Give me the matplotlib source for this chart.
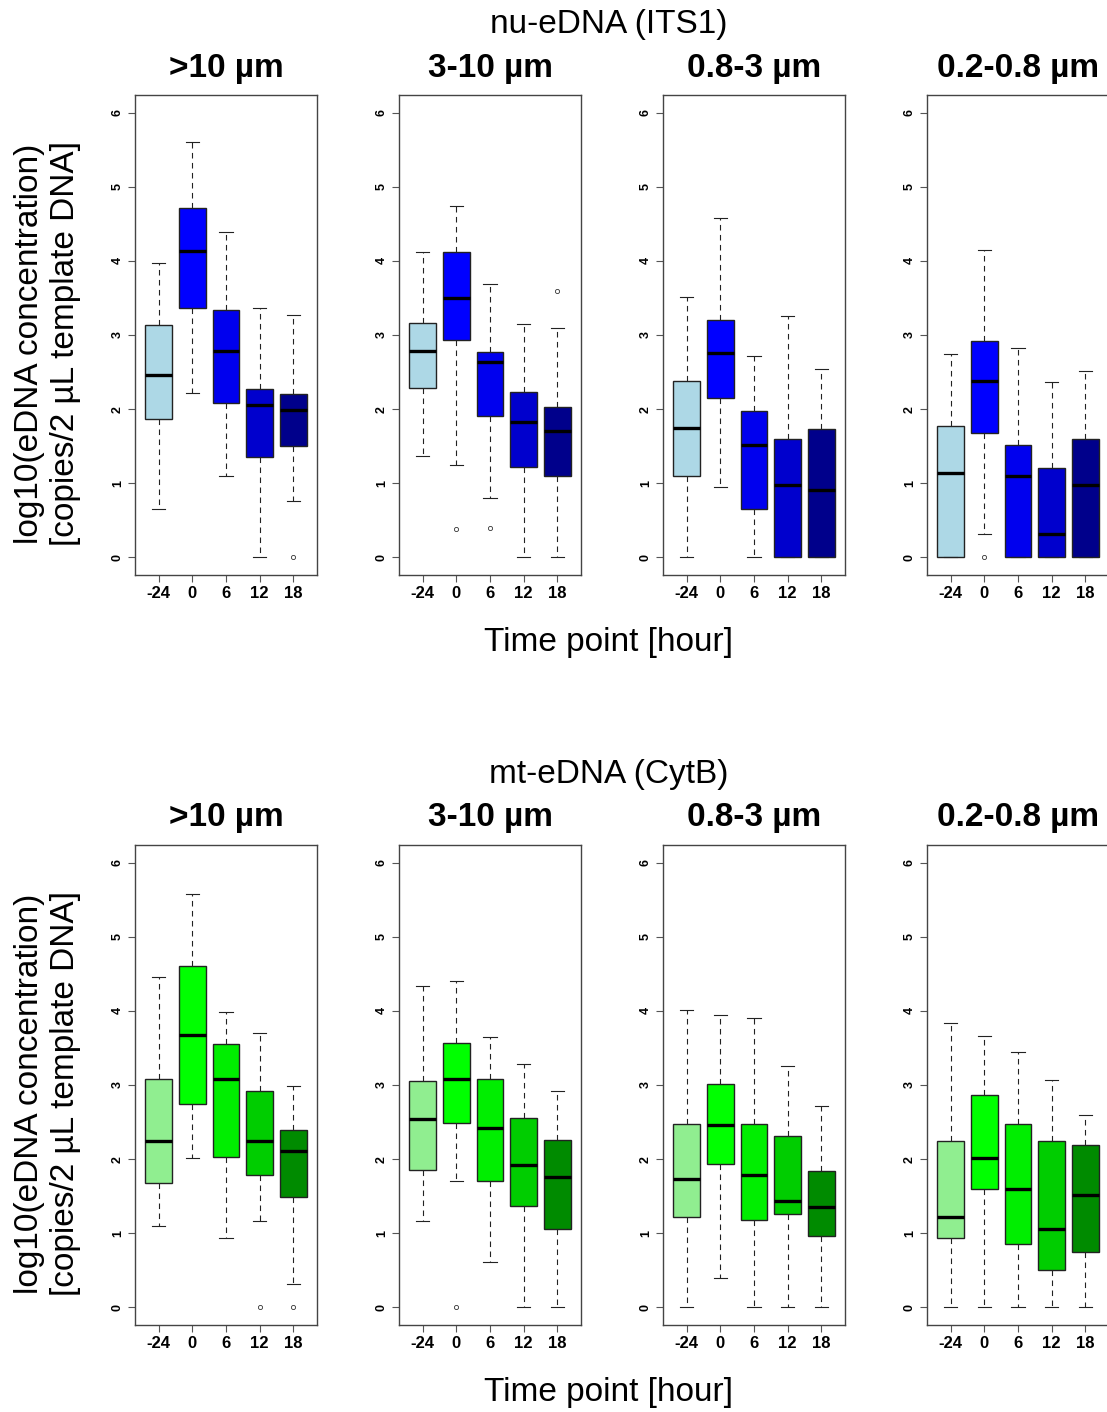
import matplotlib.pyplot as plt

# Box statistics, one row per size fraction, one value per time point
time_labels = ["-24", "0", "6", "12", "18"]
fractions = [">10 µm", "3-10 µm", "0.8-3 µm", "0.2-0.8 µm"]

# nu-eDNA (ITS1)
nu_whislo = [[0.65, 2.22, 1.09, 0.00, 0.76],
             [1.36, 1.24, 0.80, 0.00, 0.00],
             [0.00, 0.95, 0.00, 0.00, 0.00],
             [0.00, 0.32, 0.00, 0.00, 0.00]]
nu_q1 = [[1.86, 3.36, 2.08, 1.35, 1.50],
         [2.28, 2.93, 1.90, 1.22, 1.10],
         [1.10, 2.15, 0.65, 0.00, 0.00],
         [0.00, 1.68, 0.00, 0.00, 0.00]]
nu_med = [[2.46, 4.14, 2.78, 2.06, 1.99],
          [2.78, 3.50, 2.64, 1.83, 1.71],
          [1.74, 2.76, 1.51, 0.97, 0.91],
          [1.14, 2.38, 1.09, 0.32, 0.98]]
nu_q3 = [[3.13, 4.72, 3.34, 2.27, 2.21],
         [3.16, 4.12, 2.77, 2.23, 2.03],
         [2.38, 3.20, 1.98, 1.60, 1.73],
         [1.77, 2.92, 1.52, 1.21, 1.60]]
nu_whishi = [[3.97, 5.60, 4.39, 3.36, 3.27],
             [4.12, 4.74, 3.69, 3.15, 3.09],
             [3.51, 4.58, 2.72, 3.25, 2.54],
             [2.74, 4.15, 2.83, 2.37, 2.52]]
nu_fliers = [[[], [], [], [], [0.0]],
             [[], [0.38], [0.40], [], [3.59]],
             [[], [], [], [], []],
             [[], [0.0], [], [], []]]

# mt-eDNA (CytB)
mt_whislo = [[1.10, 2.02, 0.93, 1.16, 0.31],
             [1.17, 1.71, 0.61, 0.00, 0.00],
             [0.00, 0.40, 0.00, 0.00, 0.00],
             [0.00, 0.00, 0.00, 0.00, 0.00]]
mt_q1 = [[1.68, 2.74, 2.03, 1.78, 1.49],
         [1.85, 2.49, 1.70, 1.36, 1.06],
         [1.22, 1.94, 1.18, 1.26, 0.96],
         [0.94, 1.59, 0.85, 0.50, 0.75]]
mt_med = [[2.24, 3.67, 3.08, 2.25, 2.11],
          [2.54, 3.08, 2.42, 1.92, 1.76],
          [1.73, 2.46, 1.78, 1.43, 1.35],
          [1.22, 2.02, 1.59, 1.05, 1.52]]
mt_q3 = [[3.08, 4.61, 3.55, 2.92, 2.39],
         [3.05, 3.57, 3.08, 2.56, 2.26],
         [2.47, 3.02, 2.48, 2.31, 1.84],
         [2.24, 2.87, 2.48, 2.25, 2.19]]
mt_whishi = [[4.46, 5.58, 3.98, 3.70, 2.99],
             [4.34, 4.40, 3.65, 3.29, 2.92],
             [4.01, 3.94, 3.91, 3.26, 2.71],
             [3.84, 3.66, 3.44, 3.07, 2.59]]
mt_fliers = [[[], [], [], [0.0], [0.0]],
             [[], [0.0], [], [], []],
             [[], [], [], [], []],
             [[], [], [], [], []]]

nu_colors = ["#ADD8E6", "#0000FF", "#0000EE", "#0000CD", "#00008B"]
mt_colors = ["#90EE90", "#00FF00", "#00EE00", "#00CD00", "#008B00"]

W, H = 1107, 1412
FONT = "Liberation Sans"


def panel(fig, left, top, whislo, q1, med, q3, whishi, fliers, colors, title):
    ax = fig.add_axes([left / W, 1 - (top + 480) / H, 182 / W, 480 / H])
    stats = []
    for i in range(len(time_labels)):
        stats.append(dict(whislo=whislo[i], q1=q1[i], med=med[i], q3=q3[i],
                          whishi=whishi[i], fliers=fliers[i]))
    bp = ax.bxp(stats, positions=range(1, 6), widths=0.8, capwidths=0.4,
                patch_artist=True,
                boxprops=dict(edgecolor="#222222", linewidth=1.0),
                medianprops=dict(color="black", linewidth=2.4),
                whiskerprops=dict(color="#222222", linewidth=0.8, linestyle=(0, (5, 4))),
                capprops=dict(color="#222222", linewidth=0.8),
                flierprops=dict(marker="o", markersize=3, markerfacecolor="none",
                                markeredgecolor="#333333", markeredgewidth=0.6))
    for patch, c in zip(bp["boxes"], colors):
        patch.set_facecolor(c)
    ax.set_xlim(0.3, 5.7)
    ax.set_ylim(-0.24, 6.24)
    ax.set_yticks(range(7))
    ax.set_yticklabels([str(v) for v in range(7)], rotation=90, va="center",
                       fontsize=9, fontfamily=FONT, fontweight="bold")
    ax.set_xticks(range(1, 6))
    ax.set_xticklabels(time_labels, fontsize=12, fontfamily=FONT, fontweight="bold")
    ax.tick_params(length=5, width=0.8, color="#555555", pad=3)
    for s in ax.spines.values():
        s.set_color("#444444")
        s.set_linewidth(1.0)
    fig.text((left + 91) / W, 1 - (top - 27) / H, title, ha="center", va="center",
             fontsize=24, fontfamily=FONT, fontweight="bold")
    return ax


def main():
    fig = plt.figure(figsize=(W / 100, H / 100), dpi=100)
    lefts = [135, 399, 663, 927]

    rows = [
        (95, "nu-eDNA (ITS1)", nu_whislo, nu_q1, nu_med, nu_q3, nu_whishi, nu_fliers, nu_colors),
        (845, "mt-eDNA (CytB)", mt_whislo, mt_q1, mt_med, mt_q3, mt_whishi, mt_fliers, mt_colors),
    ]
    for top, header, wl, a, m, b, wh, fl, cols in rows:
        for k in range(4):
            panel(fig, lefts[k], top, wl[k], a[k], m[k], b[k], wh[k], fl[k], cols, fractions[k])
        fig.text(609 / W, 1 - (top - 70) / H, header, ha="center", va="center",
                 fontsize=24, fontfamily=FONT)
        fig.text(609 / W, 1 - (top + 548) / H, "Time point [hour]", ha="center",
                 va="center", fontsize=24, fontfamily=FONT)
        fig.text(30 / W, 1 - (top + 249) / H, "log10(eDNA concentration)", rotation=90,
                 ha="center", va="center", fontsize=24, fontfamily=FONT)
        fig.text(66 / W, 1 - (top + 249) / H, "[copies/2 µL template DNA]", rotation=90,
                 ha="center", va="center", fontsize=24, fontfamily=FONT)

    plt.savefig("out.png", dpi=100)


if __name__ == "__main__":
    main()
